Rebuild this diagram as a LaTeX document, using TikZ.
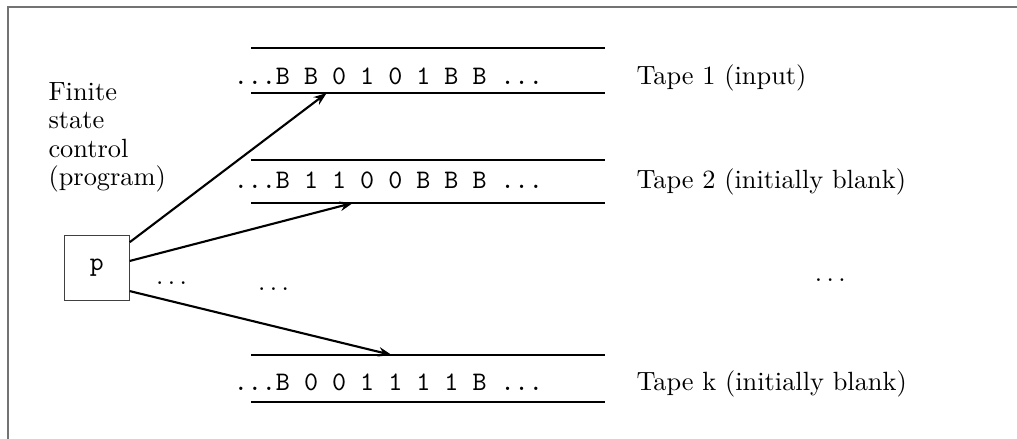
\documentclass[tikz,border=0pt]{standalone}
\usetikzlibrary{arrows.meta}
\tikzset{
	tapeline/.style={line width=0.8pt},
	headarrow/.style={line width=0.8pt, -{Stealth[length=5pt,width=3.6pt]}},
	tapecells/.style={anchor=base west, inner sep=0pt, font=\ttfamily\fontsize{10.15}{12}\selectfont},
	tapename/.style={anchor=base west, inner sep=0pt},
}
\begin{document}
\begin{tikzpicture}
			%%%%% START %%%%%
			\useasboundingbox (0, 0) rectangle (13.56, 5.853);
			\draw[line width=1pt, color=black!55] (0.107, 0) -- (0.107, 5.76) -- (13.56, 5.76);
			
			% control
			\node[anchor=north west, inner sep=0pt, align=left, font=\fontsize{10}{10.8}\selectfont] (fsc) at (0.64, 4.76) {Finite\\state\\control\\(program)};
			\node[draw, line width=0.4pt, color=black!75, text=black, minimum size=0.867cm, inner sep=0pt, font=\ttfamily] (p) at (1.29, 2.28) {p};
			
			% tape 1
			\draw[tapeline] (3.347, 5.213) -- (8.067, 5.213);
			\draw[tapeline] (3.347, 4.613) -- (8.067, 4.613);
			\node[tapecells] (t1) at (3.11, 4.72) {...B B 0 1 0 1 B B ...};
			\node[tapename] (n1) at (8.48, 4.72) {Tape 1 (input)};
			\coordinate (h1) at (4.356, 4.613);
			
			% tape 2
			\draw[tapeline] (3.347, 3.72) -- (8.067, 3.72);
			\draw[tapeline] (3.347, 3.147) -- (8.067, 3.147);
			\node[tapecells] (t2) at (3.11, 3.34) {...B 1 1 0 0 B B B ...};
			\node[tapename] (n2) at (8.48, 3.34) {Tape 2 (initially blank)};
			\coordinate (h2) at (4.707, 3.147);
			
			% tape k
			\draw[tapeline] (3.347, 1.12) -- (8.067, 1.12);
			\draw[tapeline] (3.347, 0.493) -- (8.067, 0.493);
			\node[tapecells] (tk) at (3.11, 0.65) {...B 0 0 1 1 1 1 B ...};
			\node[tapename] (nk) at (8.48, 0.65) {Tape k (initially blank)};
			\coordinate (hk) at (5.222, 1.12);
			
			% dots
			\node[anchor=base, inner sep=0pt] (d1) at (2.287, 2.053) {$\ldots$};
			\node[anchor=base, inner sep=0pt] (d2) at (3.647, 1.973) {$\ldots$};
			\node[anchor=base, inner sep=0pt] (d3) at (11.07, 2.093) {$\ldots$};
			
			% heads
			\draw[headarrow] (p.38) -- (h1);
			\draw[headarrow] (p.12) -- (h2);
			\draw[headarrow] (p.-35) -- (hk);
			%%%%% END %%%%%
\end{tikzpicture}
\end{document}
